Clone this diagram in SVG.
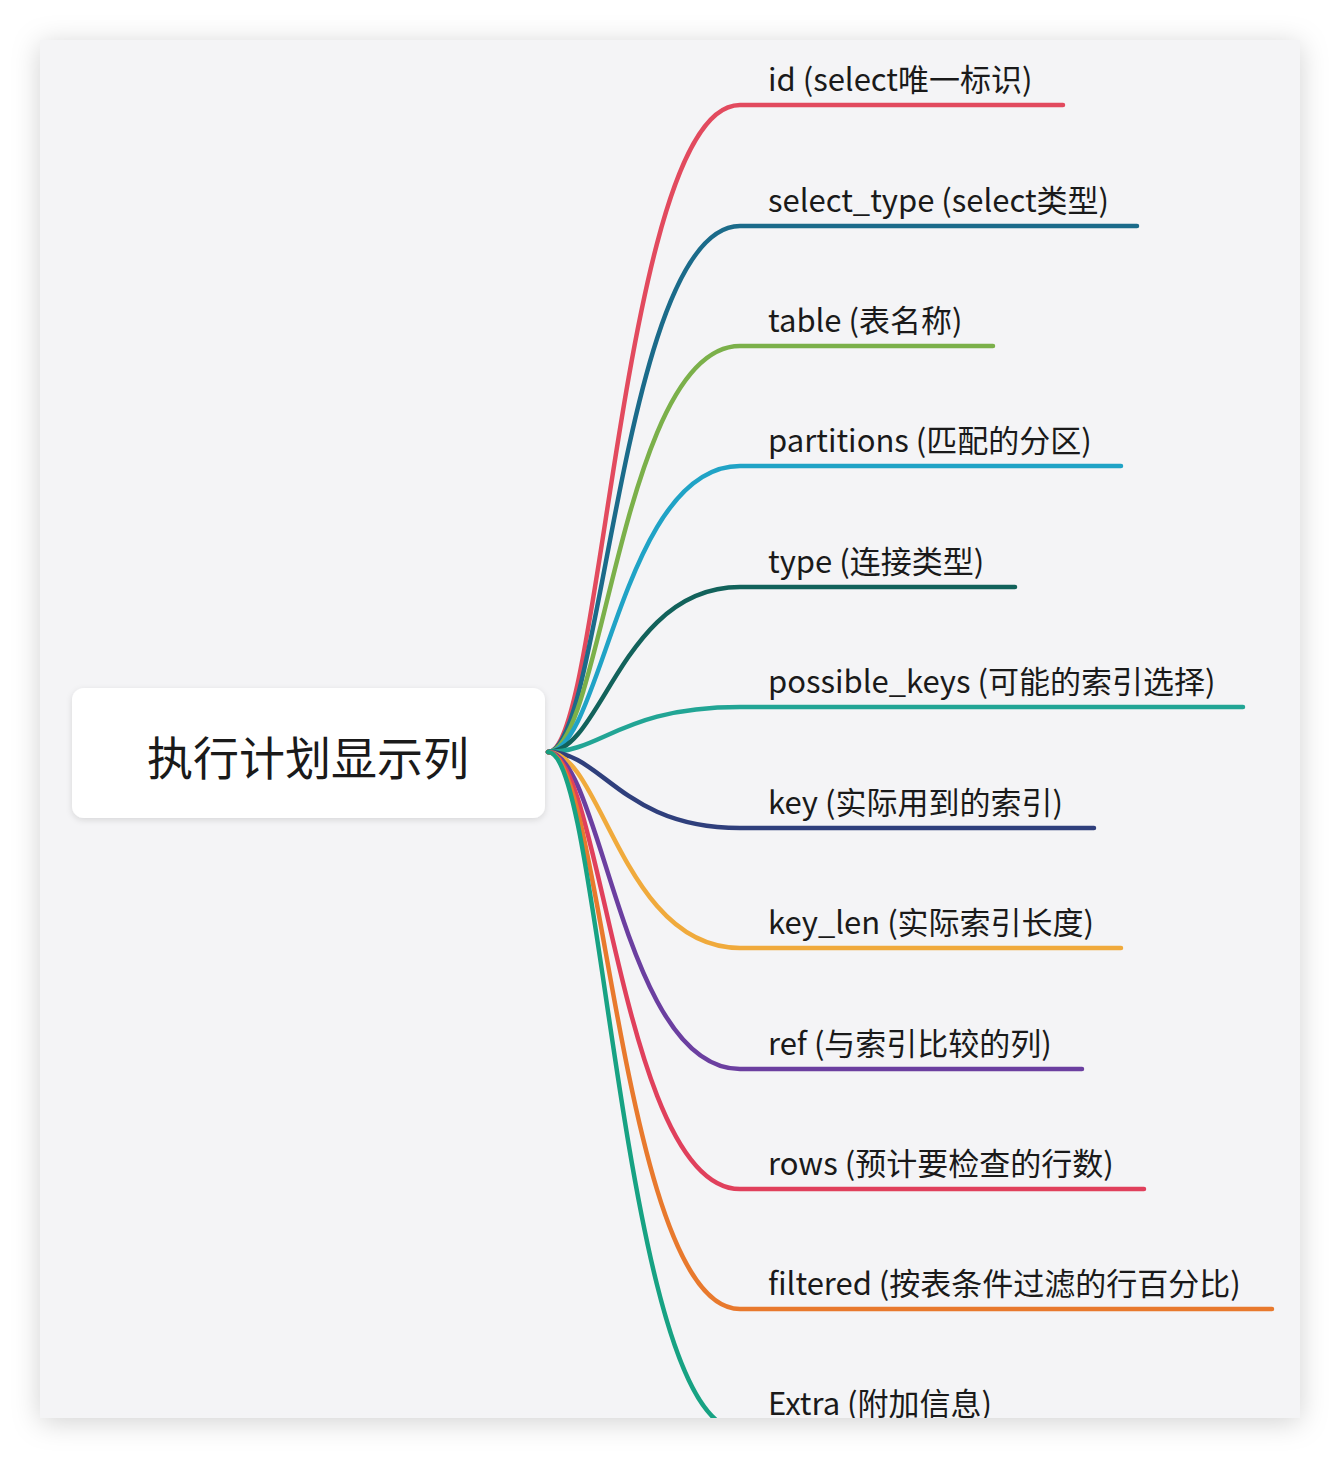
<svg xmlns="http://www.w3.org/2000/svg" width="1340" height="1458" viewBox="0 0 1340 1458">
<defs>
<filter id="panelShadow" x="-10%" y="-10%" width="120%" height="120%">
<feDropShadow dx="0" dy="4" stdDeviation="14" flood-color="#000" flood-opacity="0.18"/>
</filter>
<filter id="nodeShadow" x="-10%" y="-20%" width="120%" height="140%">
<feDropShadow dx="0" dy="2" stdDeviation="3" flood-color="#000" flood-opacity="0.12"/>
</filter>
<clipPath id="panelClip"><rect x="40" y="40" width="1260" height="1378"/></clipPath>
<style>
.lbl{font-family:"Noto Sans CJK SC","Noto Sans",sans-serif;font-size:31px;fill:#1a1a1a}
.root{font-family:"Noto Sans CJK SC","Noto Sans",sans-serif;font-size:46px;fill:#1a1a1a}
.br{fill:none;stroke-width:4.5;stroke-linecap:round}
</style>
</defs>
<rect width="1340" height="1458" fill="#ffffff"/>
<rect x="40" y="40" width="1260" height="1378" fill="#f4f4f6" filter="url(#panelShadow)"/>
<g clip-path="url(#panelClip)">
<g id="connectors">
<path class="br" stroke="#e24a5e" d="M548,752 C602,752 622,105 740,105 H1063"/>
<path class="br" stroke="#1b6b8a" d="M548,752 C602,752 622,226 740,226 H1137"/>
<path class="br" stroke="#7bb04a" d="M548,752 C602,752 622,346 740,346 H993"/>
<path class="br" stroke="#20a3c6" d="M548,752 C602,752 622,466 740,466 H1121"/>
<path class="br" stroke="#12625b" d="M548,752 C602,752 622,587 740,587 H1015"/>
<path class="br" stroke="#22a595" d="M548,752 C602,752 622,707 740,707 H1243"/>
<path class="br" stroke="#2f3f7c" d="M548,752 C602,752 622,828 740,828 H1094"/>
<path class="br" stroke="#f0aa3c" d="M548,752 C602,752 622,948 740,948 H1121"/>
<path class="br" stroke="#6b3fa0" d="M548,752 C602,752 622,1069 740,1069 H1082"/>
<path class="br" stroke="#e0405c" d="M548,752 C602,752 622,1189 740,1189 H1144"/>
<path class="br" stroke="#e8792d" d="M548,752 C602,752 622,1309 740,1309 H1272"/>
<path class="br" stroke="#17a283" d="M548,752 C602,752 622,1430 740,1430 H995"/>
</g>
<g id="node-root">
<rect x="72" y="688" width="473" height="130" rx="12" fill="#ffffff" filter="url(#nodeShadow)"/>
<text class="root" x="308" y="775" text-anchor="middle">执行计划显示列</text>
</g>
<g id="node-id"><text class="lbl" x="768" y="91">id (select唯一标识)</text></g>
<g id="node-select_type"><text class="lbl" x="768" y="212">select_type (select类型)</text></g>
<g id="node-table"><text class="lbl" x="768" y="332">table (表名称)</text></g>
<g id="node-partitions"><text class="lbl" x="768" y="452">partitions (匹配的分区)</text></g>
<g id="node-type"><text class="lbl" x="768" y="573">type (连接类型)</text></g>
<g id="node-possible_keys"><text class="lbl" x="768" y="693">possible_keys (可能的索引选择)</text></g>
<g id="node-key"><text class="lbl" x="768" y="814">key (实际用到的索引)</text></g>
<g id="node-key_len"><text class="lbl" x="768" y="934">key_len (实际索引长度)</text></g>
<g id="node-ref"><text class="lbl" x="768" y="1055">ref (与索引比较的列)</text></g>
<g id="node-rows"><text class="lbl" x="768" y="1175">rows (预计要检查的行数)</text></g>
<g id="node-filtered"><text class="lbl" x="768" y="1295">filtered (按表条件过滤的行百分比)</text></g>
<g id="node-Extra"><text class="lbl" x="768" y="1415">Extra (附加信息)</text></g>
</g>
</svg>
